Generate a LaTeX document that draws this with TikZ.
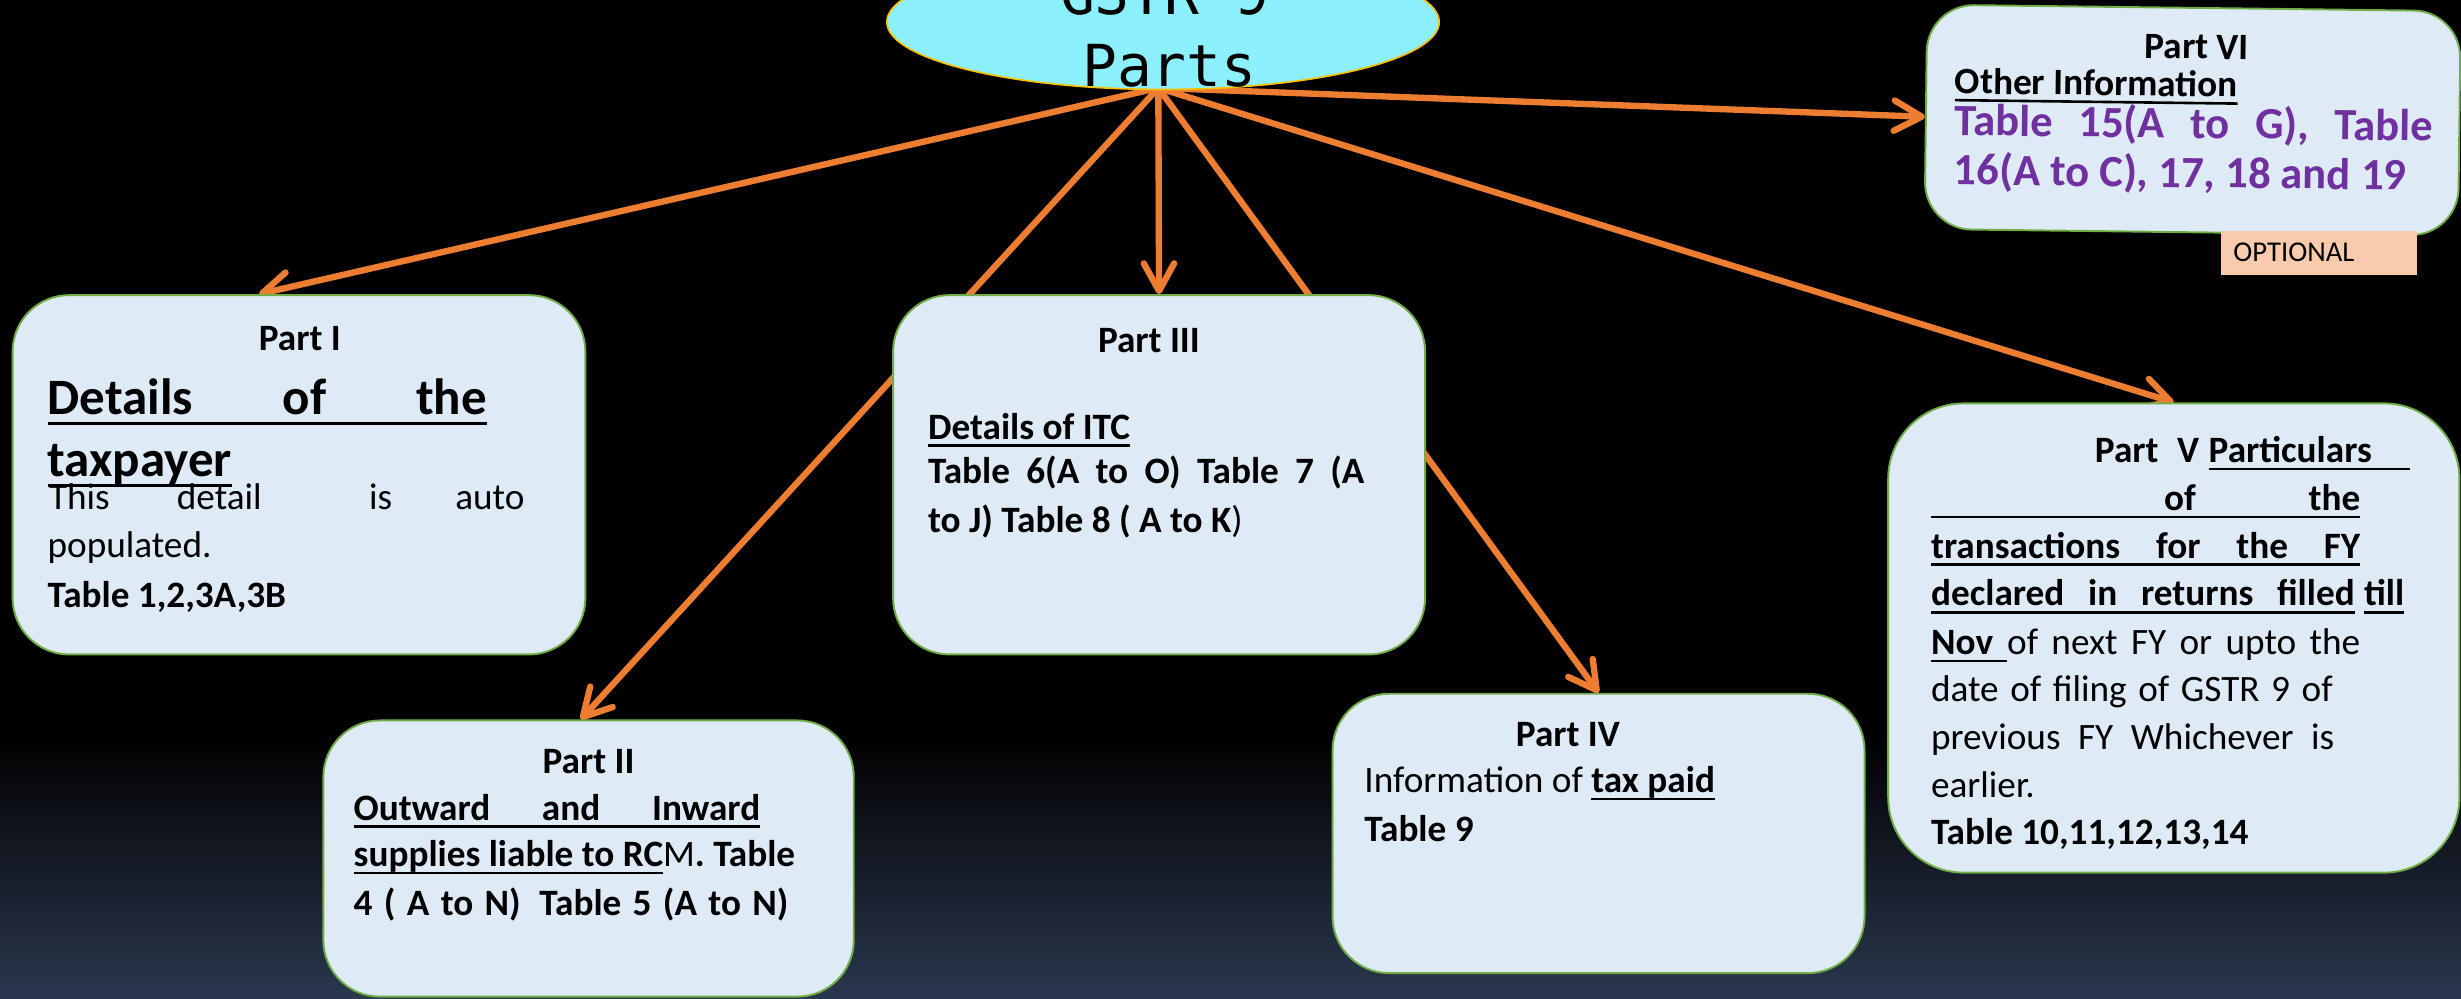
\documentclass[tikz,border=0pt]{standalone}
\usepackage{fontspec}
\setmainfont{Carlito}
\newfontfamily\hubfont{DejaVu Sans Mono}
\usetikzlibrary{shapes.geometric,arrows.meta,backgrounds}

\definecolor{boxfill}{HTML}{DEEBF7}
\definecolor{boxline}{HTML}{70AD47}
\definecolor{linkc}{HTML}{ED7D31}
\definecolor{hubfill}{HTML}{8CF0FA}
\definecolor{hubline}{HTML}{FFC000}
\definecolor{tabpurple}{HTML}{7030A0}
\definecolor{optfill}{HTML}{F8CBAD}
\definecolor{bgslate}{RGB}{43,55,78}

\newsavebox\ulbox
\newcommand\undl[1]{\sbox\ulbox{#1}\rlap{\rule[-0.21em]{\wd\ulbox}{0.07em}}\usebox\ulbox}
\newcommand\putat[2]{\rlap{\hspace*{#1}#2}}

\tikzset{
  part/.style={rectangle, rounded corners=0.72cm, fill=boxfill, draw=boxline, line width=0.7pt, inner sep=0pt},
  hub/.style={ellipse, fill=hubfill, draw=hubline, line width=0.6pt, minimum width=7.04cm, minimum height=1.72cm, inner sep=0pt},
  hubtext/.style={anchor=base, inner sep=0pt, font=\hubfont\fontsize{21}{25}\selectfont},
  link/.style={draw=linkc, line width=2.3pt, line cap=round, -{Straight Barb[round,length=10pt,width=11pt]}},
  txt/.style={anchor=base west, inner sep=0pt, font=\fontsize{13.5}{16}\selectfont},
  txtb/.style={txt, font=\fontsize{13.5}{16}\selectfont\bfseries},
  bigb/.style={txt, font=\fontsize{18.5}{22}\selectfont\bfseries},
  purp/.style={txt, text=tabpurple, font=\fontsize{16.2}{19}\selectfont\bfseries},
  head/.style={anchor=base, inner sep=0pt, font=\fontsize{13.5}{16}\selectfont\bfseries},
  opt/.style={rectangle, fill=optfill, inner sep=0pt, minimum width=2.5cm, minimum height=0.56cm, font=\fontsize{10.4}{12}\selectfont}
}

\begin{document}
\begin{tikzpicture}[x=0.02cm, y=-0.02cm]
\useasboundingbox (0,0) rectangle (1568,636);
\clip (0,0) rectangle (1568,636);

\node [hub] (gstr) at (741,14) {};
\node [hubtext] (gstrtop) at (742,9) {GSTR 9};
\node [hubtext] (gstrbot) at (745,55) {Parts};
\coordinate (src) at (738,56);

\node [part, minimum width=7.3cm, minimum height=4.58cm] (partI) at (190.5,302.5) {};
\node [part, minimum width=6.76cm, minimum height=3.52cm] (partII) at (375,547) {};
\node [part, minimum width=6.78cm, minimum height=4.58cm] (partIII) at (738.5,302.5) {};
\node [part, minimum width=6.78cm, minimum height=3.56cm] (partIV) at (1018.5,531) {};
\node [part, rounded corners=0.96cm, minimum width=7.28cm, minimum height=5.98cm] (partV) at (1385,406.5) {};
\begin{scope}[rotate around={-0.7:(1397,76.5)}, transform shape]
\node [part, rounded corners=0.6cm, minimum width=6.8cm, minimum height=2.86cm] (partVI) at (1397,76.5) {};
\node [head] (p6head) at (1399,37.5) {Part VI};
\node [txtb] (p6a) at (1245,61.5) {\undl{Other Information}};
\node [purp] (p6b) at (1245,88) {\makebox[6.1cm][s]{Table 15(A to G), Table}};
\node [purp] (p6c) at (1245,119.5) {16(A to C), 17, 18 and 19};
\end{scope}
\node [opt] (optional) at (1477.5,161) {\makebox[2.18cm][l]{OPTIONAL}};

\begin{scope}[on background layer]
\fill [black] (0,0) rectangle (1568,636);
\shade [top color=black, bottom color=bgslate] (0,467) rectangle (1568,636);
\draw [link] (src) -- ([xshift=-0.51cm]partI.north);
\draw [link] (src) -- ([xshift=-0.1cm]partII.north);
\draw [link] (src) -- (partIII.north);
\draw [link] (src) -- (partIV.north);
\draw [link] (src) -- (partV.north);
\draw [link] (src) -- (partVI.west);
\end{scope}

\node [head] (p1head) at (191,223) {Part I};
\node [bigb] (p1a) at (30,264) {\undl{\makebox[5.6cm][s]{Details of the}}};
\node [bigb] (p1b) at (30,303.6) {\undl{taxpayer}};
\node [txt] (p1c) at (30,324.7) {\putat{0cm}{This}\putat{1.63cm}{detail}\putat{4.08cm}{is}\putat{5.18cm}{auto}};
\node [txt] (p1d) at (30,355) {populated.};
\node [txtb] (p1e) at (30,387) {Table 1,2,3A,3B};

\node [head] (p2head) at (375,493) {Part II};
\node [txtb] (p2a) at (225,522.6) {\undl{\makebox[5.18cm][s]{Outward and Inward}}};
\node [txtb] (p2b) at (225,552) {\undl{supplies liable to RC}{\mdseries M}. Table};
\node [txtb] (p2c) at (225,583) {\makebox[5.54cm][s]{4 ( A to N)\enspace Table 5 (A to N)}};

\node [head] (p3head) at (732,224.7) {Part III};
\node [txtb] (p3a) at (591,279.8) {\undl{Details of ITC}};
\node [txtb] (p3b) at (591,307.8) {\makebox[5.56cm][s]{Table 6(A to O) Table 7 (A}};
\node [txtb] (p3c) at (591,339) {to J) Table 8 ( A to K{\mdseries )}};

\node [head] (p4head) at (999,475.5) {Part IV};
\node [txt] (p4a) at (869,505) {Information of \undl{\bfseries tax paid}};
\node [txtb] (p4b) at (869,536) {Table 9};

\node [txtb] (p5a) at (1333.5,294.7) {\putat{0cm}{Part\enspace V}\putat{1.45cm}{\undl{\makebox[2.56cm][l]{Particulars}}}};
\node [txtb] (p5b) at (1230,325.3) {\undl{\hbox to 5.47cm{\hspace*{2.97cm}of\hfill the}}};
\node [txtb] (p5c) at (1230,355.6) {\undl{\makebox[5.47cm][s]{transactions for the FY}}};
\node [txtb] (p5d) at (1230,386) {\undl{\makebox[5.4cm][s]{declared in returns filled}}\hspace{0.12cm}\undl{till}};
\node [txt] (p5e) at (1230,417) {\undl{\makebox[0.97cm][l]{\bfseries Nov}}\makebox[4.5cm][s]{of next FY or upto the}};
\node [txt] (p5f) at (1230,446.7) {\makebox[5.12cm][s]{date of filing of GSTR 9 of}};
\node [txt] (p5g) at (1230,477.5) {\makebox[5.14cm][s]{previous FY Whichever is}};
\node [txt] (p5h) at (1230,508) {earlier.};
\node [txtb] (p5i) at (1230,538) {Table 10,11,12,13,14};
\end{tikzpicture}
\end{document}
